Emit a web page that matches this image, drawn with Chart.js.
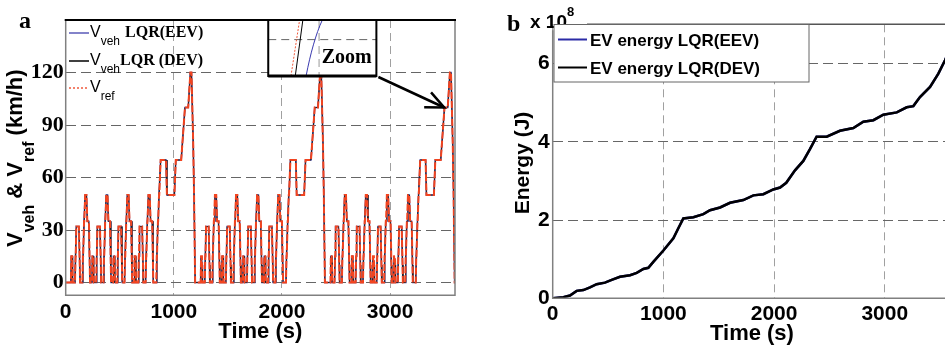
<!DOCTYPE html>
<html>
<head>
<meta charset="utf-8">
<script src="https://cdn.jsdelivr.net/npm/chart.js@4"></script>
<style>
  html, body { margin: 0; padding: 0; background: #fff; overflow: hidden; width: 945px; height: 345px; }
  #left { position: absolute; left: 0; top: 0; }
  #right { position: absolute; left: 480px; top: 0; }
</style>
</head>
<body>
<canvas id="left" width="470" height="345"></canvas>
<canvas id="right" width="500" height="345"></canvas>
<script>
// ---- data ----
// one urban (ECE-15) block: time from block start (s), speed (km/h)
const eceTime  = [0, 11, 15, 23, 25, 28, 49, 54, 56, 61, 85, 93, 96, 117, 122, 124, 133, 135, 143, 155, 163, 176, 178, 185, 188];
const eceSpeed = [0, 0, 15, 15, 10, 0, 0, 15, 15, 32, 32, 10, 0, 0, 15, 15, 35, 35, 50, 50, 35, 35, 35, 10, 0];
// one extra-urban (EUDC) block
const eudcTime  = [0, 20, 25, 27, 36, 38, 46, 48, 61, 111, 119, 188, 201, 251, 286, 316, 336, 346, 362, 370, 380];
const eudcSpeed = [0, 0, 15, 15, 35, 35, 50, 50, 70, 70, 50, 50, 70, 70, 100, 100, 120, 120, 80, 50, 0];
// where each block starts on the time axis (s)
const eceStarts  = [37, 232, 427, 622, 1237, 1432, 1627, 1822, 2437, 2632, 2827, 3022];
const eudcStarts = [817, 2017, 3217];
const endTime = 3600;

// cumulative energy (x 10^8 J)
const energyTime = [0, 96, 156, 216, 277, 337, 397, 472, 533, 608, 699, 759, 819, 864, 909, 1000, 1090, 1135, 1180,
  1271, 1361, 1421, 1512, 1602, 1722, 1813, 1903, 1993, 2054, 2110, 2189, 2264, 2324, 2384, 2475, 2595, 2716,
  2806, 2897, 2987, 3108, 3198, 3258, 3318, 3409, 3484, 3544, 3570];
const energyE8 = [0, 0.03, 0.07, 0.19, 0.21, 0.28, 0.36, 0.40, 0.47, 0.55, 0.59, 0.65, 0.75, 0.78, 0.93, 1.22, 1.53, 1.79, 2.04,
  2.07, 2.15, 2.25, 2.32, 2.44, 2.51, 2.63, 2.66, 2.78, 2.83, 2.95, 3.27, 3.51, 3.81, 4.13, 4.13, 4.28, 4.35,
  4.51, 4.55, 4.69, 4.75, 4.88, 4.91, 5.14, 5.40, 5.74, 6.08, 6.25];

const timeTicks = [0, 1000, 2000, 3000];
const speedTicks = [0, 30, 60, 90, 120];
const energyTicks = [0, 2, 4, 6];

// build the speed trace from the blocks
const blocks = [];
eceStarts.forEach(s => blocks.push({ start: s, t: eceTime, v: eceSpeed }));
eudcStarts.forEach(s => blocks.push({ start: s, t: eudcTime, v: eudcSpeed }));
blocks.sort((a, b) => a.start - b.start);
const speedPts = [{ x: 0, y: 0 }];
blocks.forEach(b => b.t.forEach((t, i) => speedPts.push({ x: b.start + t, y: b.v[i] })));
speedPts.push({ x: endTime, y: 0 });

const energyPts = energyTime.map((t, i) => ({ x: t, y: energyE8[i] }));

const SANS = 'Arial, "Liberation Sans", sans-serif';
const SERIF = '"Times New Roman", "Liberation Serif", serif';

// draw text runs with subscripts / superscripts
function drawRuns(ctx, runs, x, y) {
  runs.forEach(r => {
    ctx.font = r.font;
    ctx.fillText(r.t, x, y + (r.dy || 0));
    x += ctx.measureText(r.t).width + (r.gap || 0);
  });
  return x;
}

// ---- left chart ----
const leftDeco = {
  id: 'leftDeco',
  afterDraw(chart) {
    const ctx = chart.ctx, a = chart.chartArea, xs = chart.scales.x, ys = chart.scales.y;
    ctx.save();
    // frame
    ctx.strokeStyle = '#808080';
    ctx.lineWidth = 1.5;
    ctx.beginPath();
    ctx.moveTo(a.left, a.top); ctx.lineTo(a.left, a.bottom); ctx.lineTo(a.right, a.bottom); ctx.lineTo(a.right, a.top);
    ctx.stroke();
    ctx.strokeStyle = '#000';
    ctx.lineWidth = 2;
    ctx.beginPath(); ctx.moveTo(a.left - 1, a.top); ctx.lineTo(a.right + 1, a.top); ctx.stroke();

    // panel letter
    ctx.fillStyle = '#000';
    ctx.textBaseline = 'alphabetic';
    ctx.font = 'bold 24px ' + SERIF;
    ctx.fillText('a', 19, 28);

    // legend
    const leg = [
      { y: 33, color: '#5a5ab8', dash: [], sub: 'veh', rest: ' LQR(EEV)', gap: 1 },
      { y: 61, color: '#000', dash: [], sub: 'veh', rest: 'LQR (DEV)', gap: 0 },
      { y: 88, color: '#f05a3c', dash: [2, 2], sub: 'ref', rest: '', gap: 0 }
    ];
    leg.forEach(e => {
      ctx.strokeStyle = e.color; ctx.lineWidth = 1.5; ctx.setLineDash(e.dash);
      ctx.beginPath(); ctx.moveTo(69, e.y); ctx.lineTo(89, e.y); ctx.stroke();
      ctx.setLineDash([]);
      drawRuns(ctx, [
        { t: 'V', font: '16px ' + SANS },
        { t: e.sub, font: '12px ' + SANS, dy: 8, gap: e.gap },
        { t: e.rest, font: 'bold 16px ' + SERIF }
      ], 90, e.y + 4);
    });

    // y title, rotated
    ctx.save();
    ctx.translate(22, 247);
    ctx.rotate(-Math.PI / 2);
    drawRuns(ctx, [
      { t: 'V', font: 'bold 22px ' + SANS },
      { t: 'veh', font: 'bold 16px ' + SANS, dy: 12 },
      { t: ' & V', font: 'bold 22px ' + SANS },
      { t: 'ref', font: 'bold 16px ' + SANS, dy: 12 },
      { t: ' (km/h)', font: 'bold 22px ' + SANS }
    ], 0, 0);
    ctx.restore();

    // zoom inset
    const bx0 = xs.getPixelForValue(1873), bx1 = xs.getPixelForValue(2873);
    const by0 = ys.getPixelForValue(150), by1 = ys.getPixelForValue(118);
    const bw = bx1 - bx0, bh = by1 - by0;
    ctx.fillStyle = '#fff';
    ctx.fillRect(bx0, by0, bw, bh);
    ctx.lineWidth = 1;
    ctx.setLineDash([8, 5]);
    ctx.strokeStyle = '#666';
    ctx.beginPath(); ctx.moveTo(bx0, by0 + 0.35 * bh); ctx.lineTo(bx1, by0 + 0.35 * bh); ctx.stroke();
    ctx.strokeStyle = '#999';
    ctx.beginPath(); ctx.moveTo(bx0 + 0.47 * bw, by0); ctx.lineTo(bx0 + 0.47 * bw, by1); ctx.stroke();
    ctx.setLineDash([2, 1.5]);
    ctx.strokeStyle = '#f05a3c';
    ctx.beginPath(); ctx.moveTo(bx0 + 0.21 * bw, by1); ctx.lineTo(bx0 + 0.29 * bw, by0); ctx.stroke();
    ctx.setLineDash([]);
    ctx.strokeStyle = '#000';
    ctx.beginPath(); ctx.moveTo(bx0 + 0.25 * bw, by1); ctx.lineTo(bx0 + 0.32 * bw, by0); ctx.stroke();
    ctx.strokeStyle = '#3a3ab0';
    ctx.beginPath();
    ctx.moveTo(bx0 + 0.35 * bw, by1);
    ctx.bezierCurveTo(bx0 + 0.39 * bw, by0 + 0.6 * bh, bx0 + 0.44 * bw, by0 + 0.25 * bh, bx0 + 0.50 * bw, by0);
    ctx.stroke();
    ctx.fillStyle = '#000';
    ctx.font = 'bold 20px ' + SERIF;
    ctx.fillText('Zoom', bx0 + 0.495 * bw, by0 + 0.76 * bh);
    ctx.strokeStyle = '#000';
    ctx.lineWidth = 2;
    ctx.strokeRect(bx0, by0, bw, bh);
    ctx.lineWidth = 3;
    ctx.beginPath(); ctx.moveTo(bx0, by1); ctx.lineTo(bx1, by1); ctx.stroke();

    // arrow to the 100 km/h plateau
    const tx = xs.getPixelForValue(3500), ty = ys.getPixelForValue(100);
    const sx = bx1 + 2, sy = by1 + 1;
    ctx.lineWidth = 2.5;
    ctx.beginPath(); ctx.moveTo(sx, sy); ctx.lineTo(tx, ty); ctx.stroke();
    const ang = Math.atan2(ty - sy, tx - sx);
    ctx.beginPath();
    ctx.moveTo(tx + 20 * Math.cos(ang + Math.PI - 0.42), ty + 20 * Math.sin(ang + Math.PI - 0.42));
    ctx.lineTo(tx, ty);
    ctx.lineTo(tx + 20 * Math.cos(ang + Math.PI + 0.42), ty + 20 * Math.sin(ang + Math.PI + 0.42));
    ctx.stroke();
    ctx.restore();
  }
};

new Chart(document.getElementById('left'), {
  type: 'line',
  data: {
    datasets: [
      { label: 'Vref', data: speedPts, borderColor: '#f2441f', borderWidth: 2, borderDash: [7, 2], pointRadius: 0, tension: 0 },
      { label: 'Vveh LQR (DEV)', data: speedPts, borderColor: '#222', borderWidth: 1, pointRadius: 0, tension: 0 },
      { label: 'Vveh LQR(EEV)', data: speedPts, borderColor: '#4a4aa8', borderWidth: 1.6, pointRadius: 0, tension: 0 }
    ]
  },
  options: {
    responsive: false,
    devicePixelRatio: 1,
    animation: false,
    layout: { padding: { left: 0, right: 15, top: 20, bottom: 0 } },
    plugins: { legend: { display: false }, tooltip: { enabled: false } },
    scales: {
      x: {
        type: 'linear', min: 0, max: endTime,
        afterBuildTicks: s => { s.ticks = timeTicks.map(v => ({ value: v })); },
        afterFit: s => { s.height = 49.7; },
        ticks: { padding: 4, color: '#000', maxRotation: 0, font: { family: SANS, size: 21, weight: 'bold' }, callback: v => String(v) },
        grid: { color: '#a0a0a0', lineWidth: 1, drawTicks: false },
        border: { display: false, dash: [8, 5] },
        title: { display: true, text: 'Time (s)', color: '#000', font: { family: SANS, size: 22, weight: 'bold', lineHeight: 1 }, padding: { top: 0, bottom: 2 } }
      },
      y: {
        type: 'linear', min: -7.3, max: 150,
        afterBuildTicks: s => { s.ticks = speedTicks.map(v => ({ value: v })); },
        afterFit: s => { s.width = 65.7; },
        ticks: { padding: 2, color: '#000', font: { family: SERIF, size: 22, weight: 'bold' }, callback: v => String(v) },
        grid: { color: '#666', lineWidth: 1, drawTicks: false },
        border: { display: false, dash: [10, 5] }
      }
    }
  },
  plugins: [leftDeco]
});

// ---- right chart ----
const rightDeco = {
  id: 'rightDeco',
  afterDraw(chart) {
    const ctx = chart.ctx, a = chart.chartArea;
    ctx.save();
    ctx.strokeStyle = '#808080';
    ctx.lineWidth = 1.5;
    ctx.beginPath();
    ctx.moveTo(a.left, a.top + 6); ctx.lineTo(a.left, a.bottom); ctx.lineTo(a.right, a.bottom);
    ctx.stroke();
    ctx.strokeStyle = '#555';
    ctx.beginPath(); ctx.moveTo(107, a.top); ctx.lineTo(a.right, a.top); ctx.stroke();

    ctx.fillStyle = '#000';
    ctx.textBaseline = 'alphabetic';
    ctx.font = 'bold 24px ' + SERIF;
    ctx.fillText('b', 27, 30.5);
    drawRuns(ctx, [
      { t: 'x 10', font: 'bold 19px ' + SANS },
      { t: '8', font: 'bold 13px ' + SANS, dy: -12 }
    ], 50, 27.5);

    // y title
    ctx.save();
    ctx.translate(49, 163);
    ctx.rotate(-Math.PI / 2);
    ctx.textAlign = 'center';
    ctx.font = 'bold 21px ' + SANS;
    ctx.fillText('Energy (J)', 0, 0);
    ctx.restore();

    // legend box
    ctx.fillStyle = '#fff';
    ctx.fillRect(74, 24.5, 255, 57.5);
    ctx.strokeStyle = '#666';
    ctx.lineWidth = 1;
    ctx.strokeRect(74, 24.5, 255, 57.5);
    const leg = [{ y: 39.5, color: '#2b2ba6', text: 'EV energy LQR(EEV)' }, { y: 67.5, color: '#000', text: 'EV energy LQR(DEV)' }];
    leg.forEach(e => {
      ctx.strokeStyle = e.color; ctx.lineWidth = 2;
      ctx.beginPath(); ctx.moveTo(78, e.y); ctx.lineTo(107, e.y); ctx.stroke();
      ctx.fillStyle = '#000';
      ctx.font = 'bold 17px ' + SANS;
      ctx.fillText(e.text, 110, e.y + 6);
    });
    ctx.restore();
  }
};

new Chart(document.getElementById('right'), {
  type: 'line',
  data: {
    datasets: [
      { label: 'EV energy LQR(DEV)', data: energyPts, borderColor: '#000', borderWidth: 2.5, pointRadius: 0, tension: 0 },
      { label: 'EV energy LQR(EEV)', data: energyPts, borderColor: '#2b2ba6', borderWidth: 2.5, pointRadius: 0, tension: 0 }
    ]
  },
  options: {
    responsive: false,
    devicePixelRatio: 1,
    animation: false,
    layout: { padding: { left: 0, right: 28.8, top: 24.3, bottom: 0 } },
    plugins: { legend: { display: false }, tooltip: { enabled: false } },
    scales: {
      x: {
        type: 'linear', min: 0, max: endTime,
        afterBuildTicks: s => { s.ticks = timeTicks.map(v => ({ value: v })); },
        afterFit: s => { s.height = 46.7; },
        ticks: { padding: 3, color: '#000', maxRotation: 0, font: { family: SANS, size: 21, weight: 'bold' }, callback: v => String(v) },
        grid: { color: '#a0a0a0', lineWidth: 1, drawTicks: false },
        border: { display: false, dash: [8, 5] },
        title: { display: true, text: 'Time (s)', color: '#000', font: { family: SANS, size: 22, weight: 'bold', lineHeight: 1 }, padding: { top: 0, bottom: 0 } }
      },
      y: {
        type: 'linear', min: 0, max: 7,
        afterBuildTicks: s => { s.ticks = energyTicks.map(v => ({ value: v })); },
        afterFit: s => { s.width = 72.7; },
        ticks: { padding: 3, color: '#000', font: { family: SANS, size: 21, weight: 'bold' }, callback: v => String(v) },
        grid: { color: '#666', lineWidth: 1, drawTicks: false },
        border: { display: false, dash: [10, 5] }
      }
    }
  },
  plugins: [rightDeco]
});
</script>
</body>
</html>
